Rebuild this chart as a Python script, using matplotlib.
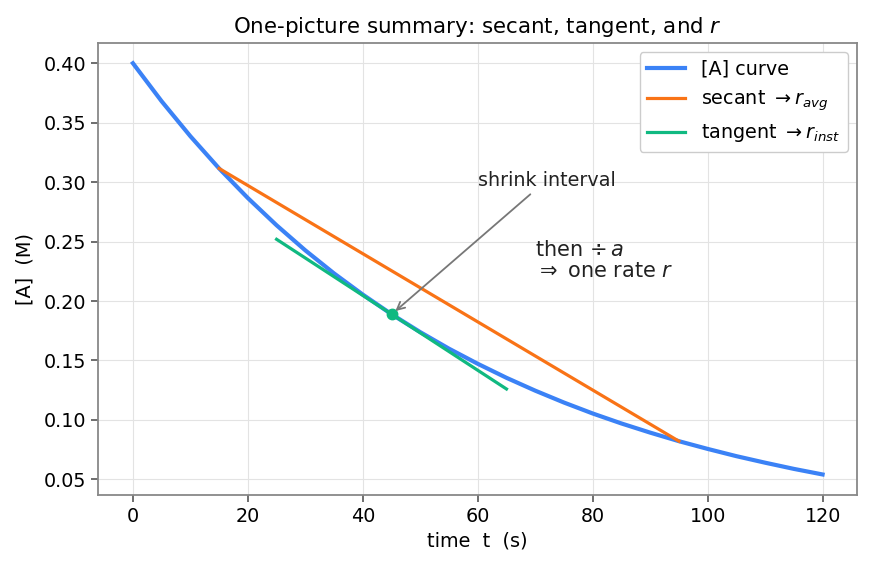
import numpy as np
import matplotlib
matplotlib.use('Agg')
import matplotlib.pyplot as plt

# [A] every 5 s
t_vals = [0, 5, 10, 15, 20, 25, 30, 35, 40, 45, 50, 55, 60,
          65, 70, 75, 80, 85, 90, 95, 100, 105, 110, 115, 120]
conc_vals = [0.4000, 0.3680, 0.3386, 0.3115, 0.2866, 0.2637, 0.2426, 0.2232,
             0.2054, 0.1889, 0.1738, 0.1599, 0.1472, 0.1354, 0.1246, 0.1146,
             0.1054, 0.0970, 0.0893, 0.0821, 0.0756, 0.0695, 0.0640, 0.0588,
             0.0541]

secant_t = [15, 95]
secant_c = [0.3115, 0.0821]
tangent_t = [25, 65]
tangent_c = [0.2519, 0.1260]
point_t = [45]
point_c = [0.1889]

plt.rcParams['font.size'] = 13.75
plt.rcParams['axes.edgecolor'] = '#888888'

fig, ax = plt.subplots(figsize=(8.71, 5.69), dpi=100)
ax.plot(t_vals, conc_vals, color='#3b82f6', lw=3, label='[A] curve')
ax.plot(secant_t, secant_c, color='#f97316', lw=2.3, label=r'secant $\rightarrow r_{avg}$')
ax.plot(tangent_t, tangent_c, color='#10b981', lw=2.3, label=r'tangent $\rightarrow r_{inst}$')
ax.plot(point_t, point_c, 'o', color='#10b981', ms=7.5)

ax.annotate('shrink interval', xy=(45.3, 0.19), xytext=(60, 0.297),
            fontsize=13.75, color='#222222',
            arrowprops=dict(arrowstyle='->', color='#777777', lw=1.3))
ax.text(70, 0.2165, 'then $\\div\\, a$\n$\\Rightarrow$ one rate $r$', fontsize=15,
        color='#222222', va='bottom', linespacing=1.1)

ax.set_title('One-picture summary: secant, tangent, and $r$', fontsize=15.4, pad=7)
ax.set_xlabel('time  t  (s)', fontsize=13.9)
ax.set_ylabel('[A]  (M)', fontsize=13.9, labelpad=7)
ax.grid(True, color='#e3e3e3', lw=0.8)
ax.set_axisbelow(True)
for s in ax.spines.values():
    s.set_linewidth(1.3)
ax.tick_params(direction='out', length=5, width=1.2, color='#555555', labelsize=13.75)
ax.legend(loc='upper right', fontsize=13.75, framealpha=1, edgecolor='#cccccc')

fig.subplots_adjust(left=0.113, right=0.984, top=0.925, bottom=0.13)
fig.savefig('out.png', dpi=100)
